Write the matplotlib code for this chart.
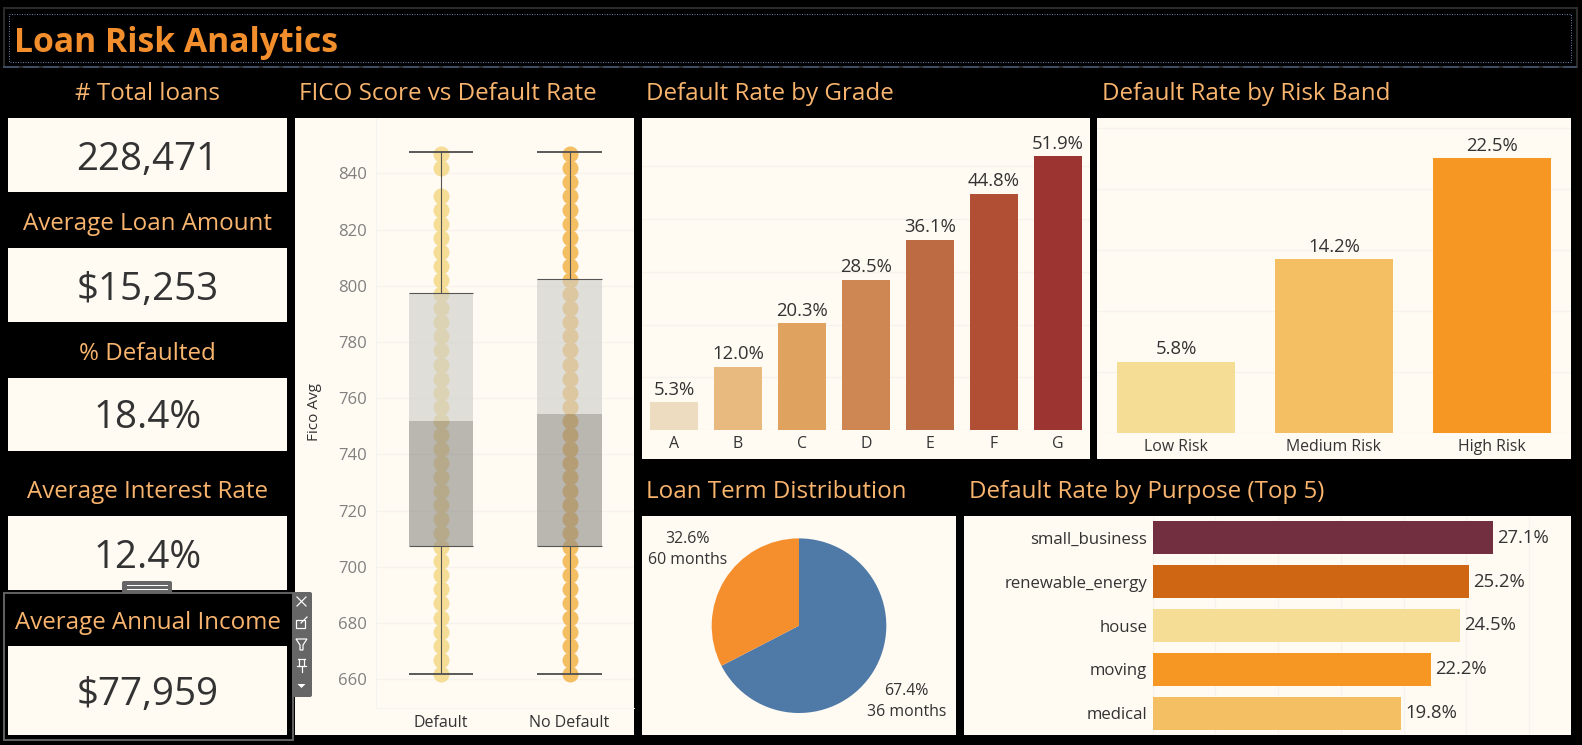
import matplotlib
matplotlib.use("Agg")
import matplotlib.pyplot as plt
from matplotlib.patches import Rectangle, FancyBboxPatch, Polygon

W, H = 1582, 745
FONT = "Open Sans"
plt.rcParams["font.family"] = [FONT, "DejaVu Sans"]

# ---------- data ----------
kpi_titles = ["# Total loans", "Average Loan Amount", "% Defaulted", "Average Interest Rate", "Average Annual Income"]
kpi_values = ["228,471", "$15,253", "18.4%", "12.4%", "$77,959"]

fico_categories = ["Default", "No Default"]
fico_default = [662, 667, 672, 677, 682, 687, 692, 697, 702, 707, 712, 717, 722, 727, 732, 737, 742, 747, 752,
                757, 762, 767, 772, 777, 782, 787, 792, 797, 802, 807, 812, 817, 822, 827, 832, 842, 847]
fico_no_default = [662, 667, 672, 677, 682, 687, 692, 697, 702, 707, 712, 717, 722, 727, 732, 737, 742, 747, 752,
                   757, 762, 767, 772, 777, 782, 787, 792, 797, 802, 807, 812, 817, 822, 827, 832, 837, 842, 847]
box_q1 = [707.3, 707.3]
box_median = [752.0, 754.4]
box_q3 = [797.5, 802.5]
whisker_low = [661.9, 661.9]
whisker_high = [847.6, 847.6]
fico_ticks = [660, 680, 700, 720, 740, 760, 780, 800, 820, 840]

grades = ["A", "B", "C", "D", "E", "F", "G"]
grade_rates = [5.3, 12.0, 20.3, 28.5, 36.1, 44.8, 51.9]
grade_colors = ["#EEDCC0", "#E9BA80", "#DFA25F", "#CE8753", "#BD6B43", "#B14F35", "#9C3532"]

risk_bands = ["Low Risk", "Medium Risk", "High Risk"]
risk_rates = [5.8, 14.2, 22.5]
risk_colors = ["#F5DD95", "#F4BE62", "#F59722"]

term_labels = ["36 months", "60 months"]
term_shares = [67.4, 32.6]
term_colors = ["#4F7AA7", "#F58F2E"]

purposes = ["small_business", "renewable_energy", "house", "moving", "medical"]
purpose_rates = [27.1, 25.2, 24.5, 22.2, 19.8]
purpose_colors = ["#722F3F", "#CF6614", "#F5DD95", "#F59722", "#F4BE62"]

# ---------- style ----------
CREAM = "#FFFAF2"
GRID = "#F6F3EC"
HEAD = "#F9B46E"
INK = "#333333"
PX = 0.72

fig = plt.figure(figsize=(W / 100, H / 100), dpi=100, facecolor="black")


def px_axes(x0, y0, x1, y1, z=1):
    return fig.add_axes([x0 / W, 1 - y1 / H, (x1 - x0) / W, (y1 - y0) / H], zorder=z)


bg = px_axes(0, 0, W, H, 0)
bg.set_xlim(0, W); bg.set_ylim(H, 0); bg.axis("off")
top = px_axes(0, 0, W, H, 10)
top.set_xlim(0, W); top.set_ylim(H, 0); top.axis("off"); top.patch.set_alpha(0)


def card(x0, y0, x1, y1):
    bg.add_patch(Rectangle((x0, y0), x1 - x0, y1 - y0, fc=CREAM, ec="none"))


def head(x, y, s, ha="left", layer=bg):
    layer.text(x, y, s, color=HEAD, fontsize=17.4, ha=ha, va="baseline")


# title band
bg.add_patch(Rectangle((3.5, 8), 1573, 59, fc="black", ec="#2B2B2B", lw=2 * PX))
bg.add_patch(Rectangle((8.5, 13.5), 1562, 48, fc="none", ec="#5F7FB0", lw=PX, ls=(0, (1, 1.5))))
bg.plot([3, 1577], [67, 67], color="#3E4A5F", lw=2 * PX, ls=(0, (8, 2)))
bg.text(14, 51.7, "Loan Risk Analytics", color="#F28E2B", fontsize=24.3, fontweight="bold", va="baseline")

# KPI column
kpi_boxes = [(118, 192), (248, 322), (378, 451), (516, 590), (646, 735)]
kpi_head_y = [100, 229.7, 359.7, 497.7, 628.7]
kpi_val_y = [170, 300, 428.5, 567.5, 705.5]
for i, (t, v) in enumerate(zip(kpi_titles, kpi_values)):
    card(8, kpi_boxes[i][0], 287, kpi_boxes[i][1])
    layer = top if i == 4 else bg
    head(147.5, kpi_head_y[i], t, ha="center", layer=layer)
    bg.text(147.5, kpi_val_y[i], v, color=INK, fontsize=27.7, ha="center", va="baseline")

# section titles
head(299, 100, "FICO Score vs Default Rate")
head(646.5, 100, "Default Rate by Grade")
head(1102, 100, "Default Rate by Risk Band")
head(646.5, 497.7, "Loan Term Distribution")
head(969, 497.7, "Default Rate by Purpose (Top 5)")

# panels behind the charts
card(295, 118, 634, 735)
card(642, 118, 1089.5, 459)
card(1097, 118, 1571, 459)
card(642, 516, 956, 735)
card(964, 516, 1571, 735)


def clean(ax):
    ax.patch.set_alpha(0)
    for s in ax.spines.values():
        s.set_visible(False)


# ---------- FICO ----------
ax = px_axes(376.3, 118, 634, 708.3)
clean(ax)
ax.set_xlim(-0.5, 1.5)
ax.set_ylim(649.7, 859.7)
ax.set_yticks(fico_ticks)
ax.set_xticks(range(2), fico_categories)
ax.tick_params(axis="y", length=0, labelsize=12, labelcolor="#808080", pad=6.5)
ax.tick_params(axis="x", length=0, labelsize=11.5, labelcolor=INK, pad=5)
ax.grid(axis="y", color=GRID, lw=PX * 1.3)
ax.set_axisbelow(True)
ax.spines["left"].set_visible(True); ax.spines["left"].set_color("#F3F3F0"); ax.spines["left"].set_linewidth(PX)
ax.spines["bottom"].set_visible(True); ax.spines["bottom"].set_color("#F3F3F0"); ax.spines["bottom"].set_linewidth(PX)
ax.scatter([0] * len(fico_default), fico_default, s=133, color="#F5DD95", lw=0, zorder=2, clip_on=False)
ax.scatter([1] * len(fico_no_default), fico_no_default, s=133, color="#F4BE62", lw=0, zorder=2, clip_on=False)
for i in range(2):
    ax.bar(i, box_q3[i] - box_median[i], bottom=box_median[i], width=0.5, color=(206 / 255, 205 / 255, 200 / 255), alpha=0.62, lw=0, zorder=3)
    ax.bar(i, box_median[i] - box_q1[i], bottom=box_q1[i], width=0.5, color=(140 / 255, 137 / 255, 133 / 255), alpha=0.6, lw=0, zorder=3)
    ax.vlines(i, box_q3[i], whisker_high[i], color="#555555", lw=PX * 1.1, zorder=4)
    ax.vlines(i, whisker_low[i], box_q1[i], color="#555555", lw=PX * 1.1, zorder=4)
    ax.hlines([whisker_low[i], whisker_high[i]], i - 0.25, i + 0.25, color="#555555", lw=PX * 1.9, zorder=4)
    ax.hlines([box_q1[i], box_q3[i]], i - 0.25, i + 0.25, color="#555555", lw=PX * 1.1, zorder=4)
bg.text(314.5, 412, "Fico Avg", rotation=90, color=INK, fontsize=11, ha="center", va="center")


def bars_v(rect, cats, vals, cols, ylim, grid, width, tick_pad):
    a = px_axes(*rect)
    clean(a)
    a.set_xlim(-0.5, len(cats) - 0.5)
    a.set_ylim(0, ylim)
    a.set_yticks(grid)
    a.set_xticks(range(len(cats)), cats)
    a.tick_params(axis="y", length=0, labelleft=False)
    a.tick_params(axis="x", length=0, labelsize=11.4, labelcolor=INK, pad=tick_pad)
    a.grid(axis="y", color=GRID, lw=PX * 1.3)
    a.set_axisbelow(True)
    a.bar(range(len(cats)), vals, width=width, color=cols, lw=0, zorder=2)
    for i, v in enumerate(vals):
        a.annotate(f"{v:.1f}%", (i, v), xytext=(0, 2.5), textcoords="offset points", ha="center", va="bottom",
                   fontsize=13.3, color=INK)
    return a


bars_v((642, 118, 1089.5, 430), grades, grade_rates, grade_colors, 59.2, [0, 10, 20, 30, 40, 50], 0.75, 4.5)
bars_v((1097, 118, 1571, 432.7), risk_bands, risk_rates, risk_colors, 25.8, [0, 5, 10, 15, 20, 25], 0.753, 4.5)

# ---------- pie ----------
ap = px_axes(711.7, 538.4, 886.3, 713)
ap.pie(term_shares, colors=term_colors, startangle=90, counterclock=False, radius=1)
ap.set_xlim(-1, 1); ap.set_ylim(-1, 1)
for (pct, lab, cx, y1, y2) in [(term_shares[1], term_labels[1], 688, 539, 560), (term_shares[0], term_labels[0], 906.7, 691, 712)]:
    bg.text(cx, y1, f"{pct:.1f}%", color=INK, fontsize=11.4, ha="center", va="center", zorder=5)
    bg.text(cx, y2, lab, color=INK, fontsize=11.4, ha="center", va="center", zorder=5)

# ---------- purpose ----------
ah = px_axes(1152.8, 516, 1571, 735)
clean(ah)
ah.set_xlim(0, 33.35)
ah.set_ylim(4.5, -0.5)
ah.set_xticks([0, 5, 10, 15, 20, 25, 30])
ah.set_yticks(range(5), purposes)
ah.tick_params(axis="x", length=0, labelbottom=False)
ah.tick_params(axis="y", length=0, labelsize=12.1, labelcolor=INK, pad=4)
ah.grid(axis="x", color=GRID, lw=PX * 1.3)
ah.set_axisbelow(True)
ah.barh(range(5), purpose_rates, height=0.75, color=purpose_colors, lw=0, zorder=2)
for i, v in enumerate(purpose_rates):
    ah.annotate(f"{v:.1f}%", (v, i), xytext=(3, 0), textcoords="offset points", ha="left", va="center",
                fontsize=13.3, color=INK)

# ---------- floating frame and toolbar ----------
top.add_patch(Rectangle((3.5, 592.5), 289, 147.5, fc="none", ec="#606060", lw=2 * PX))
top.add_patch(FancyBboxPatch((122, 581), 50, 12, boxstyle="round,pad=0,rounding_size=2", fc="#666666", ec="none"))
top.plot([127, 167], [584.5, 584.5], color="white", lw=PX)
top.plot([127, 167], [588.5, 588.5], color="white", lw=PX)
top.add_patch(FancyBboxPatch((292, 592), 20, 105, boxstyle="round,pad=0,rounding_size=2", fc="#666666", ec="none"))
iw = dict(color="white", lw=PX * 1.2)
top.plot([297, 306], [597, 606], **iw); top.plot([297, 306], [606, 597], **iw)
top.add_patch(Rectangle((296, 620), 9, 8, fc="none", ec="white", lw=PX * 1.2))
top.plot([301, 307], [623, 617], **iw)
top.add_patch(Polygon([(296, 639), (307, 639), (303, 645), (303, 650), (300, 650), (300, 645)], fc="none", ec="white", lw=PX * 1.2))
top.plot([298, 305], [659, 659], **iw); top.plot([299, 299], [659, 666], **iw); top.plot([304, 304], [659, 666], **iw)
top.plot([297, 306], [666, 666], **iw); top.plot([301.5, 301.5], [666, 672], **iw)
top.add_patch(Polygon([(297.5, 684), (305.5, 684), (301.5, 688)], fc="white", ec="none"))

fig.savefig("out.png", dpi=100, facecolor="black")
